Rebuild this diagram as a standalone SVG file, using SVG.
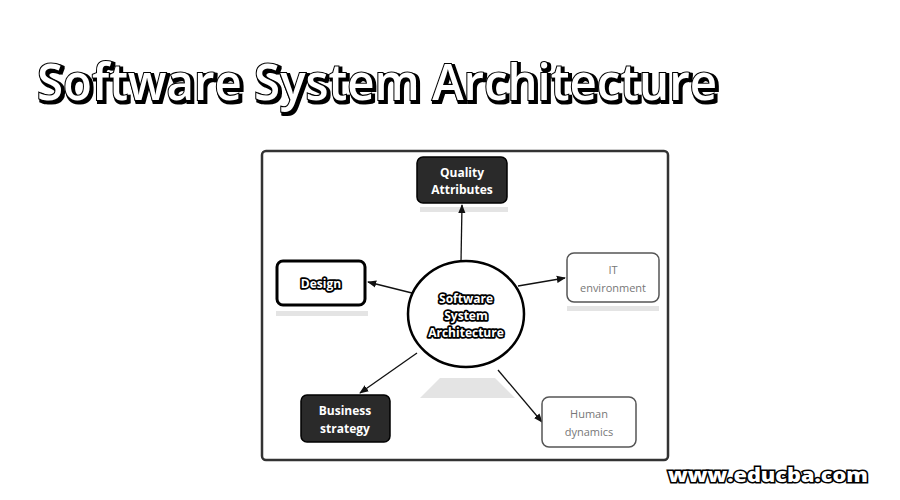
<svg xmlns="http://www.w3.org/2000/svg" width="900" height="500" viewBox="0 0 900 500">
<defs>
<marker id="arr" viewBox="0 0 10 10" refX="9" refY="5" markerWidth="7" markerHeight="7" orient="auto-start-reverse">
<path d="M0,1 L10,5 L0,9 z" fill="#111"/>
</marker>
<filter id="ds" x="-5%" y="-20%" width="110%" height="150%">
<feMorphology in="SourceAlpha" operator="dilate" radius="0.5" result="d"/>
<feOffset in="d" dx="2" dy="2" result="o"/>
<feMerge><feMergeNode in="o"/><feMergeNode in="SourceGraphic"/></feMerge>
</filter>
</defs>
<style>
.title{font-family:"Open Sans","Liberation Sans",sans-serif;font-weight:600;font-size:50px;fill:#fff;stroke:#000;stroke-width:2.2;paint-order:stroke}
.wm{font-family:"Open Sans","Liberation Sans",sans-serif;font-weight:800;font-size:20px;fill:#fff;stroke:#000;stroke-width:3;paint-order:stroke}
.lbl{font-family:"Open Sans","Liberation Sans",sans-serif;font-weight:700;font-size:12px;text-anchor:middle}
.dark{fill:#fff}
.out{fill:#fff;stroke:#000;stroke-width:3.5;paint-order:stroke;stroke-linejoin:round}
.light{fill:#777;font-weight:400;font-size:11px}
.conn{stroke:#111;stroke-width:1.3;fill:none;marker-end:url(#arr)}
.shadow{fill:#e4e4e4}
</style>
<rect x="0" y="0" width="900" height="500" fill="#fff"/>
<text class="title" x="37" y="100" textLength="680" lengthAdjust="spacingAndGlyphs" filter="url(#ds)">Software System Architecture</text>
<g id="frame">
<rect x="262" y="151" width="406" height="309" rx="4" fill="#fff" stroke="#333" stroke-width="2.5"/>
</g>
<g id="shadows">
<rect x="420" y="207" width="88" height="5" class="shadow"/>
<rect x="276" y="311" width="92" height="5" class="shadow"/>
<rect x="567" y="306" width="92" height="5" class="shadow"/>
<path d="M420,398 L440,378 L495,378 L515,398 Z" class="shadow"/>
</g>
<g id="connectors">
<line class="conn" x1="461" y1="262" x2="462" y2="205"/>
<line class="conn" x1="412" y1="293" x2="368" y2="282"/>
<line class="conn" x1="518" y1="286" x2="565" y2="278"/>
<line class="conn" x1="417" y1="353" x2="360" y2="393"/>
<line class="conn" x1="498" y1="370" x2="542" y2="422"/>
</g>
<g id="quality">
<rect x="417" y="157" width="90" height="46" rx="6" fill="#2a2a2a" stroke="#000" stroke-width="1.5"/>
<text class="lbl dark" x="462" y="177">Quality</text>
<text class="lbl dark" x="462" y="194">Attributes</text>
</g>
<g id="design">
<rect x="277" y="261" width="88" height="44" rx="6" fill="#fff" stroke="#000" stroke-width="3"/>
<text class="lbl out" x="321" y="288">Design</text>
</g>
<g id="it">
<rect x="567" y="253" width="92" height="49" rx="7" fill="#fff" stroke="#555" stroke-width="1.5"/>
<text class="lbl light" x="613" y="274">IT</text>
<text class="lbl light" x="613" y="292">environment</text>
</g>
<g id="business">
<rect x="301" y="395" width="89" height="47" rx="6" fill="#2a2a2a" stroke="#000" stroke-width="1.5"/>
<text class="lbl dark" x="345" y="415">Business</text>
<text class="lbl dark" x="345" y="433">strategy</text>
</g>
<g id="human">
<rect x="542" y="397" width="94" height="50" rx="7" fill="#fff" stroke="#555" stroke-width="1.5"/>
<text class="lbl light" x="589" y="418">Human</text>
<text class="lbl light" x="589" y="436">dynamics</text>
</g>
<g id="center">
<ellipse cx="466" cy="314" rx="58" ry="53" fill="#fff" stroke="#000" stroke-width="2.5"/>
<text class="lbl out" x="466" y="303">Software</text>
<text class="lbl out" x="466" y="320">System</text>
<text class="lbl out" x="466" y="337">Architecture</text>
</g>
<text class="wm" x="668" y="482" textLength="200" lengthAdjust="spacingAndGlyphs">www.educba.com</text>
</svg>
